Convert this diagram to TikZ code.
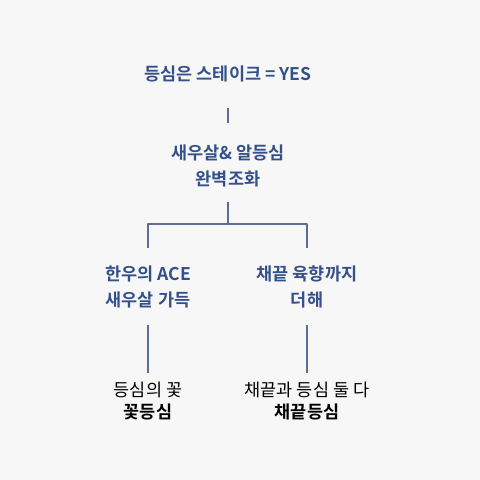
\documentclass[tikz,border=0pt]{standalone}
\usepackage{fontspec}
\setmainfont{Noto Sans CJK KR}[BoldFont={Noto Sans CJK KR Bold}]
\definecolor{headblue}{HTML}{34508A}
\definecolor{lineblue}{HTML}{5A6E98}
\definecolor{paper}{HTML}{F7F7F7}
\tikzset{
  head/.style={font=\bfseries\fontsize{17.5bp}{26bp}\selectfont,text=headblue,align=center,inner sep=0pt},
  leaf/.style={font=\fontsize{17.5bp}{22bp}\selectfont,text=black,align=center,inner sep=0pt},
  link/.style={draw=lineblue,line width=1.3bp},
}
\begin{document}
\begin{tikzpicture}[line join=bevel,]
%%
\fill [paper] (0bp,0bp) rectangle (480bp,480bp);
\node (yes) at (228bp,406bp) [head] {등심은 스테이크 = YES};
  \node (combo) at (228bp,314bp) [head] {새우살\& 알등심\\완벽조화};
  \node (hanwoo) at (148bp,193bp) [head] {한우의 ACE\\새우살 가득};
  \node (chae) at (307bp,193bp) [head] {채끝 육향까지\\더해};
  \node (kkot) at (148bp,79bp) [leaf] {등심의 꽃\\\textbf{꽃등심}};
  \node (both) at (307bp,79bp) [leaf] {채끝과 등심 둘 다\\\textbf{채끝등심}};
  \coordinate (split) at (228bp,256bp);
  \draw [link,shorten <=34bp,shorten >=43bp] (yes.center) -- (combo.center);
  \draw [link,shorten <=36bp] (combo.center) -- (split);
  \draw [link,shorten >=39bp] (split) -| (hanwoo.center);
  \draw [link,shorten >=39bp] (split) -| (chae.center);
  \draw [link,shorten <=38bp,shorten >=28bp] (hanwoo.center) -- (kkot.center);
  \draw [link,shorten <=38bp,shorten >=28bp] (chae.center) -- (both.center);
%
\end{tikzpicture}
\end{document}
